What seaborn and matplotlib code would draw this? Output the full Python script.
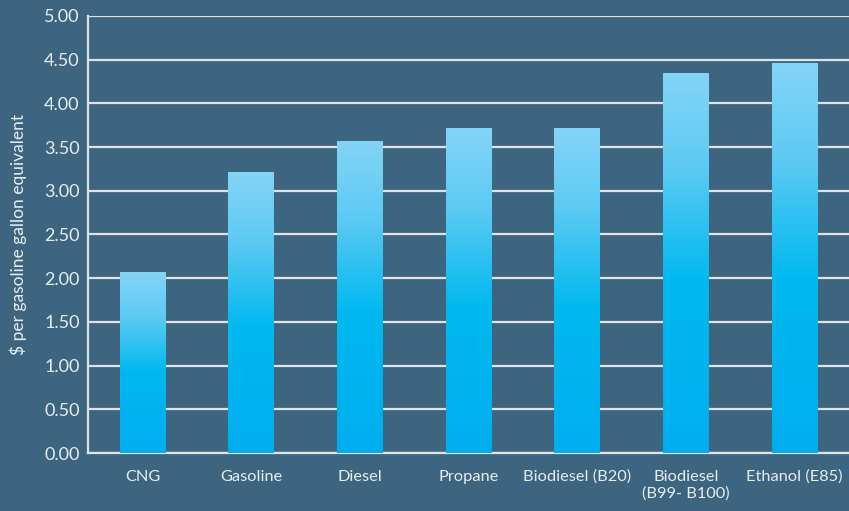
import matplotlib.pyplot as plt
import seaborn as sns
import pandas as pd
import numpy as np
from matplotlib.colors import LinearSegmentedColormap

fuels = ["CNG", "Gasoline", "Diesel", "Propane", "Biodiesel (B20)",
         "Biodiesel\n(B99- B100)", "Ethanol (E85)"]
prices = [2.07, 3.21, 3.57, 3.72, 3.72, 4.35, 4.46]
yticks = [0.0, 0.5, 1.0, 1.5, 2.0, 2.5, 3.0, 3.5, 4.0, 4.5, 5.0]

df = pd.DataFrame({"fuel": fuels, "price": prices})

bg = "#3d6580"
fg = "#e6edf2"
line = "#dde3e7"

sns.set_theme(style="white")
plt.rcParams['font.family'] = ['Lato', 'DejaVu Sans']

fig = plt.figure(figsize=(8.49, 5.11), dpi=100, facecolor=bg)
ax = fig.add_axes([0.1037, 0.1135, 0.8963, 0.8552])
ax.set_facecolor(bg)

sns.barplot(data=df, x="fuel", y="price", color="#00aeef", width=0.42,
            saturation=1, ax=ax, zorder=3)

# gradient fill: light at top, saturated towards bottom
cmap = LinearSegmentedColormap.from_list(
    "grad", [(0.0, "#00aeef"), (0.45, "#00b9f0"), (0.75, "#5ccaf3"), (1.0, "#84d4f6")])
grad = np.linspace(0, 1, 256).reshape(-1, 1)
for p in ax.patches:
    x0, w, h = p.get_x(), p.get_width(), p.get_height()
    p.set_facecolor("none")
    p.set_edgecolor("none")
    im = ax.imshow(grad, cmap=cmap, aspect="auto", origin="lower",
                   extent=[x0, x0 + w, 0, h], zorder=3)
    im.set_clip_path(p)

ax.set_xlim(-0.5, len(fuels) - 0.5)
ax.set_ylim(0, 5.0)
ax.set_yticks(yticks)
ax.set_yticklabels([f"{v:.2f}" for v in yticks])
ax.yaxis.grid(True, color=line, linewidth=1.6, zorder=1)
ax.set_axisbelow(True)

# tick marks between categories, labels at centers
ax.set_xticks(np.arange(-0.5, len(fuels), 1.0), minor=True)
ax.tick_params(axis="x", which="major", length=0, pad=12, labelsize=11.8, colors=fg)
ax.tick_params(axis="x", which="minor", length=6, width=1.2, color=line, direction="out")
ax.tick_params(axis="y", length=5, width=1.2, color=line, labelsize=13,
               labelcolor=fg, pad=1)

for s in ["top", "right"]:
    ax.spines[s].set_visible(False)
for s in ["left", "bottom"]:
    ax.spines[s].set_color(line)
    ax.spines[s].set_linewidth(1.6)

ax.set_xlabel("")
ax.set_ylabel("$ per gasoline gallon equivalent", color=fg, fontsize=12.5, labelpad=12)

fig.savefig("out.png", dpi=100, facecolor=bg)
